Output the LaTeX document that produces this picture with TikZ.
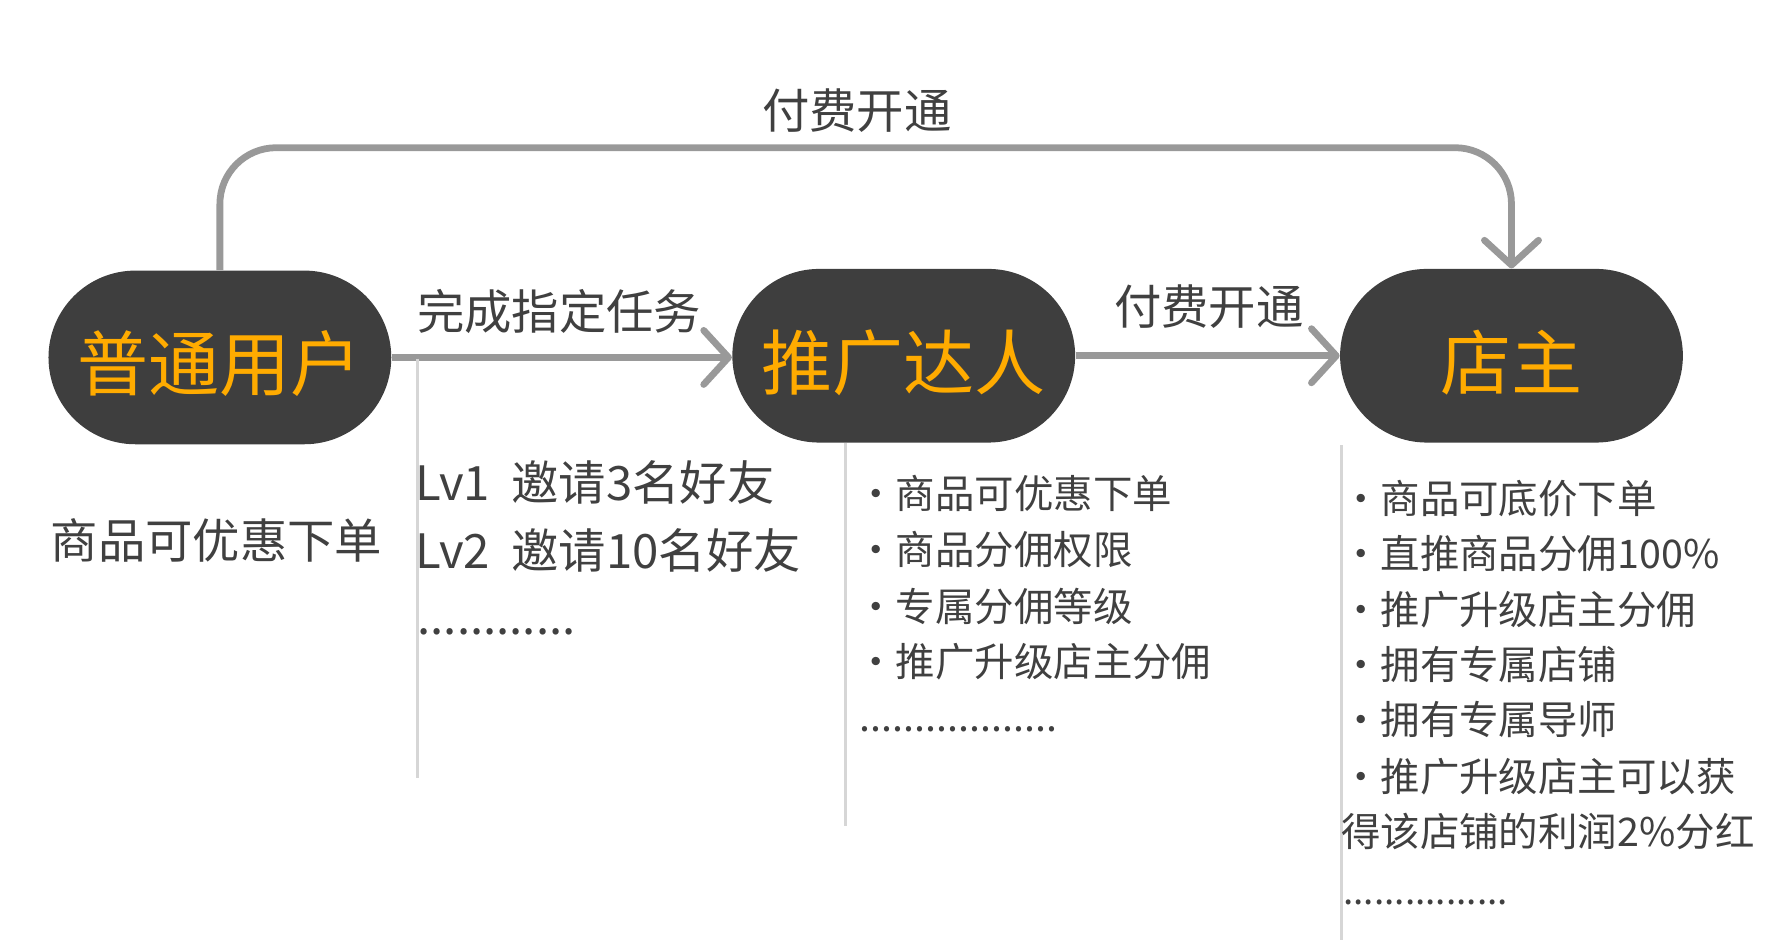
\documentclass[tikz,border=0pt]{standalone}
\usepackage{fontspec}
\setmainfont{Noto Sans CJK SC}
\usetikzlibrary{arrows.meta,shapes.misc,calc}
\definecolor{nodefill}{HTML}{3E3E3E}
\definecolor{orangetxt}{HTML}{FFAB00}
\definecolor{arrowgray}{HTML}{999999}
\definecolor{guidegray}{HTML}{D6D6D6}
\definecolor{txtgray}{HTML}{404040}
\begin{document}
\begin{tikzpicture}[x=0.5pt,y=-0.5pt,
  role/.style={rounded rectangle, fill=nodefill, text=orangetxt, minimum width=152pt, minimum height=77pt, inner sep=0pt, text height=31.5pt, text depth=2pt, font=\fontsize{31.5}{31.5}\selectfont},
  flow/.style={draw=arrowgray, line width=3pt, -{Straight Barb[length=11pt,width=24pt,round]}},
  guide/.style={draw=guidegray, line width=1.5pt},
  lbl/.style={text=txtgray, inner sep=0pt, font=\fontsize{21}{21}\selectfont},
  item/.style={text=txtgray, inner sep=0pt, anchor=west, font=\fontsize{17.5}{17.5}\selectfont},
  dots/.style={text=txtgray, inner sep=0pt, anchor=base west},
]
\useasboundingbox (0,0) rectangle (1568,833.7);
% main nodes
\node[role] (n1) at (195,317) {普通用户};
\node[role] (n2) at (801.5,315.5) {推广达人};
\node[role] (n3) at (1340.5,315.5) {店主};
% connectors
\coordinate (toprow) at (760,131);
\draw[flow, rounded corners=25pt] (n1.north) |- (toprow) -| (n3.north);
\draw[flow] (n1.east) -- (n1.east -| n2.west);
\draw[flow] (n2.east) -- (n2.east -| n3.west);
% labels
\node[lbl] (ltop) at (760,98) {付费开通};
\node[lbl] (l12) at (496,276) {完成指定任务};
\node[lbl] (l23) at (1072,272) {付费开通};
% guide lines
\coordinate (g1a) at (370,318); \coordinate (g1b) at (370,690);
\coordinate (g2a) at (750,393); \coordinate (g2b) at (750,733);
\coordinate (g3a) at (1190,395); \coordinate (g3b) at (1190,834);
\draw[guide] (g1a) -- (g1b);
\draw[guide] (g2a) -- (g2b);
\draw[guide] (g3a) -- (g3b);
% column 1
\node[lbl] (c1) at (192,479) {商品可优惠下单};
% column 2
\node[lbl, anchor=west] (lv1) at (368,428) {Lv1\hspace{0.45em}邀请3名好友};
\node[lbl, anchor=west] (lv2) at (368,488) {Lv2\hspace{0.45em}邀请10名好友};
\node[dots, font=\fontsize{21}{21}\selectfont] (d2) at (370,563) {............};
% column 3
\node[item] (m1) at (759,437.5) {・商品可优惠下单};
\node[item] (m2) at (759,487.8) {・商品分佣权限};
\node[item] (m3) at (759,538) {・专属分佣等级};
\node[item] (m4) at (759,586.8) {・推广升级店主分佣};
\node[dots, font=\fontsize{17.5}{17.5}\selectfont] (d3) at (762,649) {..................};
% column 4
\node[item] (r1) at (1189,442) {・商品可底价下单};
\node[item] (r2) at (1189,490.7) {・直推商品分佣100\%};
\node[item] (r3) at (1189,541) {・推广升级店主分佣};
\node[item] (r4) at (1189,589.7) {・拥有专属店铺};
\node[item] (r5) at (1189,638.5) {・拥有专属导师};
\node[item] (r6) at (1189,688.8) {・推广升级店主可以获};
\node[item] (r7) at (1189,737.6) {得该店铺的利润2\%分红};
\node[dots, font=\fontsize{16.4}{16.4}\selectfont] (d4) at (1191,802) {................};
\end{tikzpicture}
\end{document}
